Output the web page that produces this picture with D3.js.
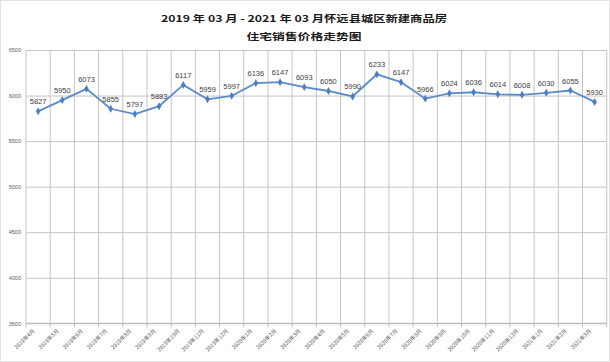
<!DOCTYPE html>
<html><head><meta charset="utf-8">
<script src="https://cdn.jsdelivr.net/npm/d3@7/dist/d3.min.js"></script>
<style>body{margin:0;background:#fff}svg{display:block}</style>
</head><body><svg id="c" width="610" height="362"></svg>
<script>
const months = ["2019年4月","2019年5月","2019年6月","2019年7月","2019年8月","2019年9月","2019年10月","2019年11月","2019年12月","2020年1月","2020年2月","2020年3月","2020年4月","2020年5月","2020年6月","2020年7月","2020年8月","2020年9月","2020年10月","2020年11月","2020年12月","2021年1月","2021年2月","2021年3月"];
const prices = [5827,5950,6073,5855,5797,5883,6117,5959,5997,6136,6147,6093,6050,5990,6233,6147,5966,6024,6036,6014,6008,6030,6055,5930];
const yTicks = [3500,4000,4500,5000,5500,6000,6500];
const titleLines = ["2019 年 03 月 - 2021 年  03 月怀远县城区新建商品房","住宅销售价格走势图"];

const svg = d3.select("#c");
const L = 26, R = 606.7, T = 50, B = 323.3;
const x = d3.scaleBand().domain(months).range([L, R]);
const y = d3.scaleLinear().domain([3500, 6500]).range([B, T]);

svg.append("rect").attr("x",0.5).attr("y",0.5).attr("width",609).attr("height",361)
  .attr("fill","none").attr("stroke","#e2e2e2");

// title
const tw = [286, 115];
titleLines.forEach((t,i)=>{
  svg.append("text").attr("x",304).attr("y",[22,40][i]).attr("text-anchor","middle")
    .attr("font-family","'Noto Sans CJK SC', sans-serif").attr("font-weight","bold")
    .attr("font-size",9.5).attr("fill","#1a1a1a")
    .attr("textLength",tw[i]).attr("lengthAdjust","spacingAndGlyphs").text(t);
});

// horizontal grid
const gy = svg.append("g").attr("transform",`translate(${L},0)`)
  .call(d3.axisLeft(y).tickValues(yTicks).tickSize(-(R-L)).tickFormat(d3.format("d")).tickPadding(5));
gy.select(".domain").remove();
gy.selectAll(".tick line").attr("stroke","#c4c4c4").attr("stroke-width",1);
gy.selectAll(".tick text").attr("font-family","'Liberation Sans', sans-serif").attr("font-size",5.5).attr("fill","#595959");

// vertical grid at band boundaries
const bounds = months.map(m=>x(m)).concat([R]);
svg.append("g").selectAll("line").data(bounds).join("line")
  .attr("x1",d=>d).attr("x2",d=>d).attr("y1",T).attr("y2",B+4)
  .attr("stroke","#c4c4c4").attr("stroke-width",1);

// x axis baseline
svg.append("line").attr("x1",L).attr("x2",R).attr("y1",B).attr("y2",B).attr("stroke","#bdbdbd").attr("stroke-width",1.2);

// x labels
svg.append("g").selectAll("text").data(months).join("text")
  .attr("transform",d=>`translate(${x(d)+x.bandwidth()/2-3},${B+8}) rotate(-45)`)
  .attr("text-anchor","end").attr("font-family","'Noto Sans CJK SC', sans-serif")
  .attr("font-size",5.5).attr("fill","#595959").text(d=>d);

// line
const cx = d=>x(d)+x.bandwidth()/2;
svg.append("path").datum(prices.map((v,i)=>[months[i],v]))
  .attr("fill","none").attr("stroke","#5a8ccd").attr("stroke-width",1.8)
  .attr("d",d3.line().x(d=>cx(d[0])).y(d=>y(d[1])));

// markers (diamonds)
svg.append("g").selectAll("path").data(prices).join("path")
  .attr("d",d3.symbol(d3.symbolDiamond,18))
  .attr("transform",(d,i)=>`translate(${cx(months[i])},${y(d)})`)
  .attr("fill","#4a7ec4");

// value labels
svg.append("g").selectAll("text").data(prices).join("text")
  .attr("x",(d,i)=>cx(months[i])).attr("y",d=>y(d)-7)
  .attr("text-anchor","middle").attr("font-family","'Liberation Sans', sans-serif")
  .attr("font-size",7.5).attr("fill","#404040").text(d=>d);
</script></body></html>
